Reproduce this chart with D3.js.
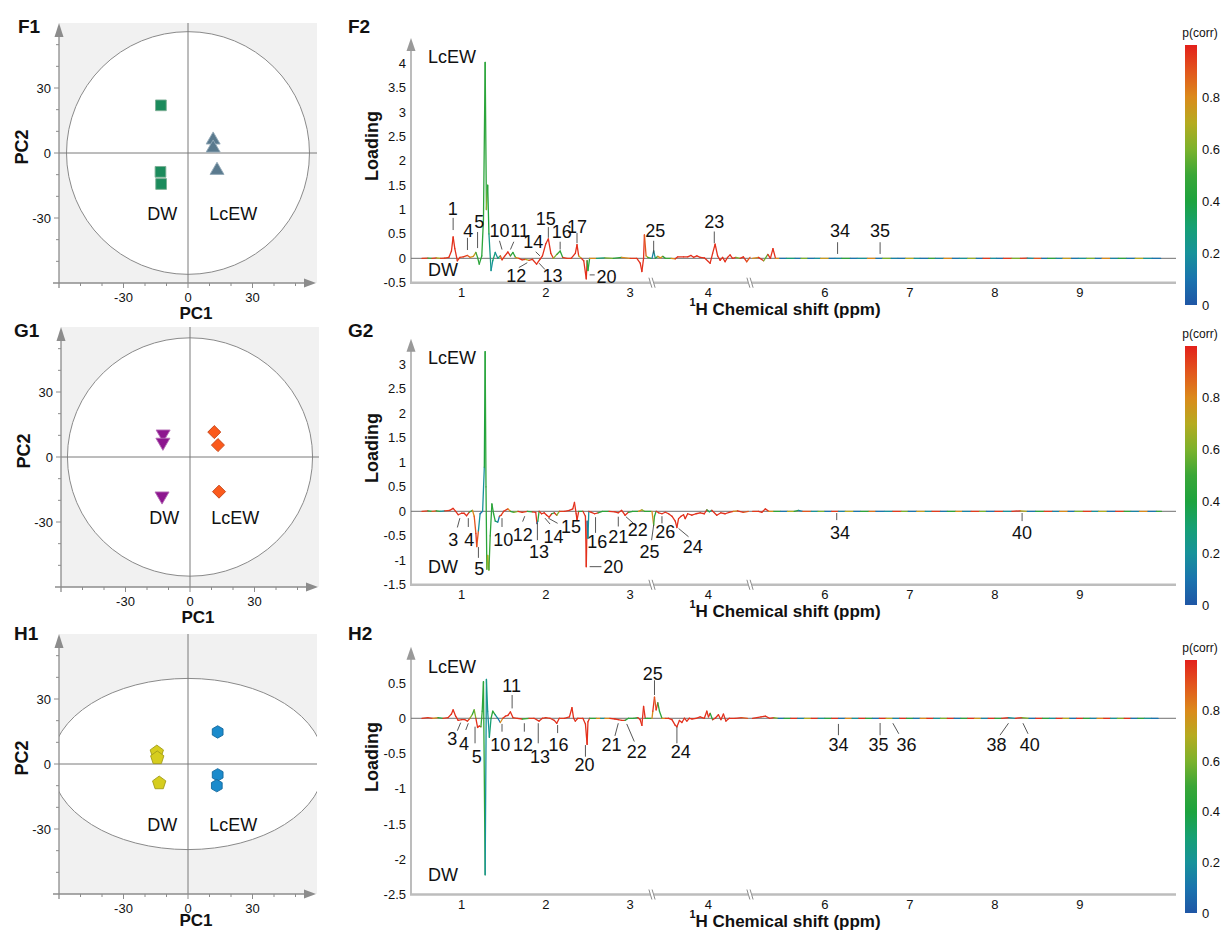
<!DOCTYPE html>
<html>
<head>
<meta charset="utf-8">
<script src="https://cdn.jsdelivr.net/npm/d3@7"></script>
<style>
  body { margin: 0; background: #fff; }
  text { font-family: "Liberation Sans", Arial, sans-serif; fill: #111; }
</style>
</head>
<body>
<svg id="fig" width="1223" height="930"></svg>
<script>
// ---------- score plots (PC1, PC2) ----------
var f1DW = [[-12.6, 22], [-12.8, -8.7], [-12.5, -14.3]];
var f1LcEW = [[11.7, 6], [11.7, 2.3], [13.5, -8]];
var g1DW = [[-12.5, 10.6], [-12.6, 6.8], [-13, -18]];
var g1LcEW = [[11.3, 11.5], [13, 5.5], [13.5, -16]];
var h1DW = [[-14.5, 5.5], [-14.3, 2.8], [-13.4, -8.8]];
var h1LcEW = [[13.8, 14.8], [13.8, -5], [13.4, -10]];
var f1Ellipse = [56.5, 56];
var g1Ellipse = [57, 55];
var h1Ellipse = [63.5, 39.5];
var pcTicks = [-30, 0, 30];
var pcMinor = [-50, -40, -30, -20, -10, 0, 10, 20, 30, 40, 50];

// ---------- loading spectra [ppm, loading, p(corr)] ----------
var f2Spec = [
  [0.53,0,.9],[0.6,.005,.95],[0.65,0,.5],[0.7,.01,.95],[0.75,0,.7],[0.8,.005,.95],[0.85,.02,.95],[0.88,.15,.97],[0.90,.44,.97],[0.92,.2,.97],[0.95,-.05,.97],[0.98,.02,.95],[1.02,.03,.95],[1.07,.06,.95],[1.10,.02,.9],[1.14,.04,.8],[1.17,.12,.75],[1.19,.02,.5],[1.21,-.12,.45],[1.24,.05,.45],[1.26,.8,.45],[1.28,4.02,.45],[1.295,1.0,.45],[1.31,1.5,.62],[1.325,.5,.4],[1.35,-.25,.25],[1.37,-.05,.2],[1.40,.12,.3],[1.43,0,.2],[1.46,.05,.3],[1.48,-.03,.9],[1.51,.04,.97],[1.55,.13,.97],[1.58,.05,.97],[1.61,.12,.45],[1.64,.02,.45],[1.68,0,.8],[1.72,-.03,.97],[1.76,-.02,.95],[1.80,-.04,.7],[1.84,-.02,.95],[1.89,-.12,.97],[1.93,-.02,.97],[1.96,.05,.97],[2.0,.3,.97],[2.03,.4,.97],[2.06,.1,.97],[2.09,0,.95],[2.13,.08,.62],[2.17,.15,.5],[2.2,.02,.45],[2.25,0,.95],[2.3,0,.95],[2.35,.1,.97],[2.37,.28,.97],[2.39,.05,.97],[2.42,0,.7],[2.45,-.05,.97],[2.48,-.42,.97],[2.49,-.05,.97],[2.5,-.25,.45],[2.52,0,.45],[2.6,0,.8],[2.7,.01,.3],[2.8,0,.6],[2.9,.02,.45],[3.0,0,.8],[3.08,0,.95],[3.12,-.1,.97],[3.14,-.27,.97],[3.16,0,.97],[3.17,.48,.97],[3.19,.05,.9],[3.21,.02,.7],[3.25,0,.5],
  [3.32,0,.45],[3.34,.15,.15],[3.36,0,.2],[3.39,.04,.45],[3.42,.01,.8],[3.45,.04,.8],[3.48,0,.45],[3.55,0,.5],[3.6,-.01,.8],[3.63,.03,.97],[3.7,.03,.97],[3.75,.03,.97],[3.79,.06,.97],[3.82,.02,.97],[3.86,.05,.97],[3.9,.02,.97],[3.95,.01,.97],[4.02,-.1,.97],[4.05,.1,.97],[4.08,.29,.97],[4.11,.05,.97],[4.14,-.04,.97],[4.17,.02,.97],[4.2,-.07,.97],[4.23,.02,.97],[4.26,.07,.97],[4.29,0,.97],[4.33,.02,.97],[4.38,0,.6],[4.42,.03,.97],[4.46,-.07,.97],[4.5,.02,.9],
  [5.15,0,.8],[5.22,.02,.8],[5.28,-.05,.97],[5.3,0,.6],[5.33,.08,.55],[5.36,0,.97],[5.39,.2,.97],[5.42,0,.97],[5.47,0,.8],
  [5.55,0,.1],[5.65,0,.3],[5.72,0,.1],[5.8,0,.6],[5.88,0,.1],[5.95,0,.2],[6.05,0,.75],[6.12,0,.1],[6.2,0,.15],[6.3,0,.45],[6.38,0,.1],[6.5,0,.2],[6.6,0,.8],[6.68,0,.1],[6.78,0,.6],[6.86,0,.15],[6.95,0,.1],[7.05,0,.7],[7.12,0,.2],[7.22,0,.1],[7.3,0,.5],[7.4,0,.15],[7.5,0,.8],[7.58,0,.1],[7.68,0,.2],[7.78,0,.65],[7.86,0,.1],[7.95,0,.95],[8.02,0,.2],[8.1,0,.1],[8.2,0,.95],[8.3,0,.6],[8.38,.005,.95],[8.46,0,.2],[8.55,0,.9],[8.62,0,.1],[8.72,0,.45],[8.8,0,.15],[8.9,0,.75],[8.98,0,.1],[9.08,0,.2],[9.18,0,.6],[9.26,0,.1],[9.36,0,.8],[9.45,0,.15],[9.55,0,.45],[9.65,0,.1],[9.75,0,.7],[9.85,0,.2],[9.95,0,.1]
];
var g2Spec = [
  [0.53,0,.45],[0.6,.01,.95],[0.65,0,.45],[0.7,.01,.9],[0.75,0,.45],[0.8,.01,.2],[0.86,.02,.95],[0.9,.06,.97],[0.93,0,.97],[0.96,-.07,.97],[1.0,-.04,.97],[1.03,-.04,.97],[1.06,-.09,.97],[1.09,-.02,.97],[1.13,.02,.5],[1.15,-.1,.8],[1.17,-.45,.9],[1.18,-.72,.97],[1.2,-.4,.9],[1.22,-.05,.2],[1.25,0,.1],[1.27,.9,.2],[1.28,3.26,.4],[1.29,.5,.45],[1.30,-1.18,.45],[1.31,-.9,.6],[1.325,-1.2,.7],[1.34,-.5,.5],[1.36,.15,.45],[1.38,-.05,.45],[1.40,-.2,.45],[1.43,-.22,.3],[1.45,-.1,.1],[1.47,-.08,.95],[1.5,0,.95],[1.55,.05,.97],[1.58,0,.8],[1.62,-.02,.45],[1.67,0,.6],[1.72,-.02,.97],[1.78,0,.95],[1.84,-.01,.45],[1.88,-.02,.97],[1.895,-.25,.97],[1.905,-.2,.1],[1.92,0,.45],[1.95,-.05,.97],[1.98,-.03,.97],[2.01,-.08,.97],[2.04,-.12,.97],[2.07,-.05,.97],[2.1,-.03,.45],[2.13,-.08,.97],[2.16,0,.6],[2.22,0,.95],[2.28,.02,.97],[2.32,.05,.97],[2.34,.18,.97],[2.36,-.05,.97],[2.37,-.18,.97],[2.39,0,.97],[2.44,0,.45],[2.47,-.1,.97],[2.48,-1.13,.97],[2.49,-.2,.97],[2.5,-.55,.1],[2.51,0,.2],[2.54,-.02,.97],[2.58,-.05,.97],[2.62,-.03,.97],[2.67,0,.45],[2.75,0,.45],[2.82,-.01,.97],[2.86,-.03,.97],[2.9,.02,.97],[2.94,-.08,.97],[2.98,-.02,.97],[3.03,0,.45],[3.1,0,.45],[3.14,.03,.8],[3.17,0,.6],[3.25,0,.45],
  [3.32,0,.45],[3.34,-.28,.8],[3.35,-.1,.5],[3.37,0,.45],[3.4,-.03,.97],[3.44,-.05,.97],[3.48,-.02,.97],[3.52,-.05,.97],[3.56,-.1,.97],[3.6,-.2,.97],[3.62,-.33,.97],[3.64,-.15,.97],[3.67,-.1,.97],[3.7,-.07,.97],[3.72,-.15,.97],[3.75,-.05,.97],[3.8,-.08,.97],[3.85,-.05,.97],[3.9,-.03,.97],[3.95,-.05,.97],[3.98,.03,.97],[4.01,-.01,.45],[4.04,.02,.3],[4.1,-.08,.97],[4.15,-.03,.97],[4.2,-.05,.97],[4.25,-.02,.97],[4.3,0,.97],[4.35,.01,.8],[4.42,-.02,.97],[4.48,0,.9],
  [5.15,0,.6],[5.22,0,.95],[5.26,-.02,.97],[5.3,.05,.97],[5.34,0,.97],[5.4,0,.8],
  [5.48,0,.45],[5.56,0,.1],[5.64,0,.7],[5.69,.02,.45],[5.74,0,.15],[5.84,0,.9],[5.92,0,.2],[6.0,0,.6],[6.08,0,.1],[6.16,0,.95],[6.24,0,.15],[6.34,0,.7],[6.42,0,.1],[6.52,0,.45],[6.6,0,.85],[6.7,0,.1],[6.8,0,.2],[6.9,0,.95],[6.98,0,.6],[7.08,0,.1],[7.18,0,.75],[7.26,0,.2],[7.36,0,.95],[7.44,0,.1],[7.54,0,.45],[7.62,0,.8],[7.72,0,.15],[7.82,0,.95],[7.9,0,.6],[8.0,0,.1],[8.1,0,.95],[8.2,0,.2],[8.3,.01,.97],[8.38,0,.7],[8.48,0,.1],[8.58,0,.45],[8.68,0,.95],[8.76,0,.15],[8.86,0,.8],[8.94,0,.1],[9.04,0,.6],[9.14,0,.95],[9.22,0,.2],[9.32,0,.7],[9.42,0,.1],[9.52,0,.95],[9.6,0,.45],[9.7,0,.15],[9.8,0,.8],[9.9,0,.1],[9.96,0,.5]
];
var h2Spec = [
  [0.53,0,.45],[0.6,.01,.97],[0.66,0,.95],[0.72,.01,.8],[0.78,0,.45],[0.84,.01,.95],[0.88,.06,.97],[0.9,.12,.97],[0.93,.03,.97],[0.96,-.03,.97],[1.0,-.02,.97],[1.04,-.02,.97],[1.07,-.04,.97],[1.1,0,.95],[1.13,.06,.6],[1.15,.12,.45],[1.17,0,.6],[1.19,-.13,.97],[1.21,-.11,.97],[1.23,-.12,.97],[1.245,.1,.5],[1.26,.52,.45],[1.28,-2.22,.45],[1.295,.55,.2],[1.31,.1,.25],[1.33,-.27,.2],[1.35,0,.3],[1.37,.1,.45],[1.4,.05,.45],[1.43,0,.2],[1.46,-.06,.1],[1.49,0,.8],[1.52,.03,.97],[1.55,.04,.97],[1.58,.09,.97],[1.61,.01,.97],[1.66,0,.95],[1.72,-.01,.97],[1.8,0,.5],[1.86,0,.95],[1.92,-.04,.97],[1.96,0,.97],[2.0,.01,.97],[2.05,0,.95],[2.1,-.03,.97],[2.13,-.07,.97],[2.16,0,.97],[2.22,0,.95],[2.28,.02,.97],[2.31,.15,.97],[2.33,0,.97],[2.35,-.04,.97],[2.38,0,.97],[2.44,0,.95],[2.47,-.08,.97],[2.49,-.37,.97],[2.5,-.05,.97],[2.52,0,.97],[2.6,0,.45],[2.65,0,.8],[2.7,0,.2],[2.76,0,.8],[2.82,-.01,.97],[2.86,-.02,.97],[2.9,-.03,.97],[2.94,-.03,.97],[2.98,0,.45],[3.04,0,.45],[3.09,.01,.45],[3.12,-.02,.97],[3.14,-.1,.97],[3.16,.17,.97],[3.18,0,.97],[3.21,0,.45],[3.25,0,.45],
  [3.32,0,.8],[3.33,.1,.8],[3.35,.3,.97],[3.37,.12,.9],[3.39,.22,.97],[3.41,.1,.45],[3.44,0,.45],[3.48,0,.8],[3.52,0,.95],[3.56,-.02,.97],[3.6,-.1,.97],[3.62,-.12,.97],[3.65,-.03,.97],[3.68,-.06,.97],[3.71,0,.97],[3.74,-.04,.97],[3.77,0,.97],[3.8,-.01,.97],[3.85,0,.97],[3.9,.02,.97],[3.95,0,.97],[3.98,.1,.97],[4.0,.02,.97],[4.02,.07,.97],[4.05,-.02,.45],[4.08,0,.97],[4.12,.05,.97],[4.15,-.02,.97],[4.18,.06,.97],[4.21,-.04,.97],[4.25,0,.97],[4.32,0,.97],[4.4,.01,.97],[4.47,0,.9],
  [5.15,0,.97],[5.25,.02,.97],[5.3,.03,.97],[5.35,0,.97],[5.4,.01,.97],[5.45,0,.6],
  [5.52,0,.1],[5.6,0,.45],[5.68,0,.97],[5.76,0,.15],[5.84,0,.7],[5.92,0,.97],[6.0,0,.2],[6.08,0,.45],[6.16,0,.97],[6.24,0,.1],[6.32,0,.8],[6.4,0,.2],[6.48,0,.97],[6.56,0,.45],[6.64,0,.1],[6.72,0,.97],[6.8,0,.7],[6.88,0,.15],[6.96,0,.97],[7.04,0,.45],[7.12,0,.1],[7.2,0,.8],[7.28,0,.97],[7.36,0,.2],[7.44,0,.6],[7.52,0,.97],[7.6,0,.1],[7.68,0,.45],[7.76,0,.97],[7.84,0,.75],[7.92,0,.15],[8.0,0,.97],[8.08,0,.45],[8.16,.01,.97],[8.24,0,.2],[8.32,.01,.97],[8.4,0,.6],[8.48,0,.1],[8.56,0,.97],[8.64,0,.45],[8.72,0,.2],[8.8,0,.97],[8.88,0,.7],[8.96,0,.1],[9.04,0,.97],[9.12,0,.45],[9.2,0,.15],[9.28,0,.8],[9.36,0,.97],[9.44,0,.2],[9.52,0,.6],[9.6,0,.97],[9.68,0,.1],[9.76,0,.45],[9.84,0,.2],[9.92,0,.1]
];

// peak annotations: [text, ppm, loading, leader ppm1, load1, ppm2, load2]
var f2Peaks = [
  ["1",0.895,1.03,0.90,0.83,0.90,0.58],["4",1.08,0.58,1.07,0.42,1.07,0.17],["5",1.21,0.75,1.19,0.54,1.19,0.21],
  ["10",1.45,0.58,1.45,0.36,1.48,0.18],["11",1.69,0.58,1.62,0.34,1.58,0.18],["14",1.85,0.34,1.88,0.135,1.93,0.05],
  ["15",2.0,0.82,2.03,0.64,2.03,0.42],["16",2.19,0.55,2.17,0.34,2.17,0.18],["17",2.37,0.65,2.37,0.52,2.37,0.31],
  ["12",1.65,-0.36,1.68,-0.19,1.78,-0.09],["13",2.08,-0.36,1.92,-0.10,1.99,-0.23],["20",2.72,-0.38,2.52,-0.34,2.58,-0.34],
  ["25",3.36,0.58,3.34,0.36,3.34,0.10],["23",4.07,0.75,4.07,0.55,4.07,0.31],
  ["34",6.18,0.56,6.15,0.33,6.15,0.09],["35",6.65,0.56,6.65,0.33,6.65,0.09]
];
var g2Peaks = [
  ["3",0.90,-0.586,0.95,-0.33,0.98,-0.14],["4",1.09,-0.586,1.08,-0.14,1.08,-0.32],["5",1.21,-1.16,1.20,-0.73,1.20,-0.95],
  ["10",1.495,-0.586,1.48,-0.14,1.48,-0.32],["12",1.725,-0.48,1.75,-0.10,1.725,-0.21],["13",1.92,-0.82,1.90,-0.24,1.90,-0.59],
  ["14",2.09,-0.52,1.99,-0.14,2.05,-0.26],["15",2.30,-0.31,2.03,-0.14,2.14,-0.245],["16",2.61,-0.62,2.59,-0.12,2.59,-0.44],
  ["20",2.80,-1.12,2.52,-1.13,2.66,-1.13],["21",2.86,-0.52,2.86,-0.11,2.86,-0.31],["22",3.09,-0.38,2.95,-0.11,3.04,-0.245],
  ["25",3.23,-0.82,3.34,-0.28,3.255,-0.59],["26",3.48,-0.42,3.44,-0.10,3.44,-0.245],["24",3.81,-0.71,3.64,-0.35,3.76,-0.52],
  ["34",6.18,-0.44,6.14,-0.035,6.14,-0.18],["40",8.32,-0.44,8.32,-0.035,8.32,-0.2]
];
var h2Peaks = [
  ["3",0.89,-0.284,0.95,-0.176,0.99,-0.062],["4",1.03,-0.355,1.05,-0.166,1.08,-0.071],["5",1.18,-0.545,1.16,-0.119,1.16,-0.355],
  ["10",1.46,-0.379,1.48,-0.08,1.48,-0.19],["12",1.73,-0.379,1.745,-0.07,1.745,-0.19],["13",1.93,-0.545,1.91,-0.07,1.91,-0.355],
  ["16",2.15,-0.379,2.14,-0.095,2.14,-0.21],["20",2.46,-0.66,2.47,-0.38,2.47,-0.545],["21",2.78,-0.379,2.86,-0.07,2.82,-0.25],
  ["22",3.08,-0.47,2.96,-0.08,3.05,-0.33],["11",1.595,0.47,1.60,0.33,1.60,0.14],["25",3.33,0.64,3.35,0.54,3.35,0.33],
  ["24",3.665,-0.47,3.62,-0.12,3.62,-0.355],["34",6.16,-0.379,6.16,-0.08,6.16,-0.24],["35",6.63,-0.379,6.65,-0.067,6.65,-0.24],
  ["36",6.96,-0.379,6.80,-0.07,6.87,-0.22],["38",8.02,-0.379,8.16,-0.07,8.06,-0.24],["40",8.41,-0.379,8.33,-0.07,8.39,-0.22]
];
var ppmTicks = [1, 2, 3, 4, 6, 7, 8, 9];
var f2YTicks = [-0.5, 0, 0.5, 1, 1.5, 2, 2.5, 3, 3.5, 4];
var g2YTicks = [-1.5, -1, -0.5, 0, 0.5, 1, 1.5, 2, 2.5, 3];
var h2YTicks = [-2.5, -2, -1.5, -1, -0.5, 0, 0.5];
var pcorrTicks = [0, 0.2, 0.4, 0.6, 0.8];
var pcorrStops = [0, .1, .2, .3, .4, .5, .6, .7, .8, .9, 1];
var pcorrColors = ["#1f56a5","#1a74ae","#17929a","#16a073","#1da33e","#3aa637","#7cb22c","#b5ab20","#db8a1b","#e2561d","#e3201b"];

var svg = d3.select("#fig");
svg.append("rect").attr("width", 1223).attr("height", 930).attr("fill", "#fff");

var pcColor = d3.scaleLinear().domain(pcorrStops).range(pcorrColors).clamp(true);

// broken ppm axis: gaps 3.26-3.32 and 4.5-5.12
var gaps = [[3.26, 3.32], [4.5, 5.12]];
var x = d3.scaleLinear()
  .domain([0.4, 3.26, 3.32, 4.5, 5.12, 10.13])
  .range([411, 652, 652, 750, 750, 1176]);

function polygon(n, r, rot) {
  var pts = [];
  for (var i = 0; i < n; i++) {
    var a = rot + i * 2 * Math.PI / n;
    pts.push([r * Math.sin(a), -r * Math.cos(a)]);
  }
  return "M" + pts.join("L") + "Z";
}

var shapes = {
  square: d3.symbol(d3.symbolSquare, 115)(),
  triUp: d3.symbol(d3.symbolTriangle, 85)(),
  diamond: d3.symbol(d3.symbolSquare, 85)(),
  pentagon: polygon(5, 7, 0),
  hexagon: polygon(6, 6.2, 0)
};

function letter(t, px, py) {
  svg.append("text").attr("x", px).attr("y", py).text(t)
    .attr("font-size", 19).attr("font-weight", "bold");
}

// ---------- score plot ----------
function drawScores(cfg) {
  var sx = d3.scaleLinear().domain([-60, 60]).range(cfg.xr);
  var sy = d3.scaleLinear().domain([-60, 60]).range(cfg.yr);
  var g = svg.append("g");
  var clipId = "clip" + cfg.name;
  svg.append("clipPath").attr("id", clipId).append("rect")
    .attr("x", cfg.xr[0]).attr("y", cfg.yr[1])
    .attr("width", cfg.xr[1] - cfg.xr[0]).attr("height", cfg.yr[0] - cfg.yr[1]);

  g.append("rect")
    .attr("x", cfg.xr[0]).attr("y", cfg.yr[1])
    .attr("width", cfg.xr[1] - cfg.xr[0]).attr("height", cfg.yr[0] - cfg.yr[1])
    .attr("fill", "#f1f1f1");
  g.append("ellipse")
    .attr("clip-path", "url(#" + clipId + ")")
    .attr("cx", sx(0)).attr("cy", sy(0))
    .attr("rx", sx(cfg.ellipse[0]) - sx(0)).attr("ry", sy(0) - sy(cfg.ellipse[1]))
    .attr("fill", "#fff").attr("stroke", "#8a8a8a").attr("stroke-width", 1);

  // cross hairs
  g.append("line").attr("x1", sx(0)).attr("x2", sx(0)).attr("y1", cfg.yr[1]).attr("y2", cfg.yr[0])
    .attr("stroke", "#7a7a7a");
  g.append("line").attr("x1", cfg.xr[0]).attr("x2", cfg.xr[1]).attr("y1", sy(0)).attr("y2", sy(0))
    .attr("stroke", "#7a7a7a");

  // axes with arrows
  var ax = "#8c8c8c";
  g.append("line").attr("x1", cfg.xr[0] - 6).attr("x2", cfg.xr[1] - 12)
    .attr("y1", cfg.yr[0]).attr("y2", cfg.yr[0]).attr("stroke", ax).attr("stroke-width", 1.3);
  g.append("path")
    .attr("d", "M" + (cfg.xr[1] - 13) + "," + (cfg.yr[0] - 4.5) + "L" + (cfg.xr[1] - 1) + "," + cfg.yr[0] + "L" + (cfg.xr[1] - 13) + "," + (cfg.yr[0] + 4.5) + "Z")
    .attr("fill", ax);
  g.append("line").attr("x1", cfg.xr[0]).attr("x2", cfg.xr[0])
    .attr("y1", cfg.yr[0] + 5).attr("y2", cfg.yr[1] + 13).attr("stroke", ax).attr("stroke-width", 1.3);
  g.append("path")
    .attr("d", "M" + (cfg.xr[0] - 4.5) + "," + (cfg.yr[1] + 14) + "L" + cfg.xr[0] + "," + cfg.yr[1] + "L" + (cfg.xr[0] + 4.5) + "," + (cfg.yr[1] + 14) + "Z")
    .attr("fill", ax);

  pcMinor.forEach(function(v) {
    var len = pcTicks.indexOf(v) >= 0 ? 5 : 3;
    g.append("line").attr("x1", sx(v)).attr("x2", sx(v))
      .attr("y1", cfg.yr[0]).attr("y2", cfg.yr[0] + len).attr("stroke", ax);
    g.append("line").attr("y1", sy(v)).attr("y2", sy(v))
      .attr("x1", cfg.xr[0]).attr("x2", cfg.xr[0] - len).attr("stroke", ax);
  });
  pcTicks.forEach(function(v) {
    g.append("text").attr("x", sx(v)).attr("y", cfg.yr[0] + 19)
      .attr("text-anchor", "middle").attr("font-size", 13).attr("fill", "#222").text(v);
    g.append("text").attr("x", cfg.xr[0] - 8).attr("y", sy(v)).attr("dy", "0.35em")
      .attr("text-anchor", "end").attr("font-size", 13).attr("fill", "#222").text(v);
  });

  g.append("text").attr("x", sx(0) + 8).attr("y", Math.min(cfg.yr[0] + 36, 926))
    .attr("text-anchor", "middle").attr("font-size", 17).attr("font-weight", "bold").text("PC1");
  g.append("text").attr("transform", "translate(" + (cfg.xr[0] - 31) + "," + (sy(0) - 6) + ") rotate(-90)")
    .attr("text-anchor", "middle").attr("font-size", 18).attr("font-weight", "bold").text("PC2");

  [[cfg.dw, cfg.dwStyle], [cfg.lc, cfg.lcStyle]].forEach(function(grp) {
    g.selectAll(null).data(grp[0]).enter().append("path")
      .attr("d", grp[1].shape)
      .attr("transform", function(d) {
        return "translate(" + sx(d[0]) + "," + sy(d[1]) + ")" + (grp[1].rot ? " rotate(" + grp[1].rot + ")" : "");
      })
      .attr("fill", grp[1].fill).attr("stroke", grp[1].stroke).attr("stroke-width", 0.9);
  });

  g.append("text").attr("x", sx(-12)).attr("y", sy(-28)).attr("dy", "0.35em")
    .attr("text-anchor", "middle").attr("font-size", 18).text("DW");
  g.append("text").attr("x", sx(21)).attr("y", sy(-28)).attr("dy", "0.35em")
    .attr("text-anchor", "middle").attr("font-size", 18).text("LcEW");
}

drawScores({ name: "F1", xr: [59, 317], yr: [283, 23], ellipse: f1Ellipse,
  dw: f1DW, dwStyle: { shape: shapes.square, fill: "#1b8b5c", stroke: "#7aae93" },
  lc: f1LcEW, lcStyle: { shape: shapes.triUp, fill: "#5a7a8e", stroke: "#93a9b8" } });
drawScores({ name: "G1", xr: [61, 319], yr: [587, 327], ellipse: g1Ellipse,
  dw: g1DW, dwStyle: { shape: shapes.triUp, rot: 180, fill: "#8d168f", stroke: "#b36ab4" },
  lc: g1LcEW, lcStyle: { shape: shapes.diamond, rot: 45, fill: "#fb5a1c", stroke: "#c5461a" } });
drawScores({ name: "H1", xr: [59, 317], yr: [894, 634], ellipse: h1Ellipse,
  dw: h1DW, dwStyle: { shape: shapes.pentagon, fill: "#d6cd1e", stroke: "#a39c1a" },
  lc: h1LcEW, lcStyle: { shape: shapes.hexagon, fill: "#1b8bcc", stroke: "#14699d" } });

// ---------- loading plot ----------
function crossesGap(a, b) {
  return gaps.some(function(gp) { return a <= gp[0] && b >= gp[1]; });
}

function drawLoadings(cfg) {
  var y = d3.scaleLinear().domain(cfg.yd).range(cfg.yr);
  var g = svg.append("g");
  var yBot = cfg.yr[0], yTop = cfg.yr[1];

  // y axis with arrow
  g.append("line").attr("x1", 411).attr("x2", 411).attr("y1", yBot).attr("y2", yTop + 11)
    .attr("stroke", "#999").attr("stroke-width", 1.3);
  g.append("path")
    .attr("d", "M406.5," + (yTop + 12) + "L411," + (yTop - 1) + "L415.5," + (yTop + 12) + "Z")
    .attr("fill", "#999");
  cfg.yTicks.forEach(function(v) {
    g.append("text").attr("x", 406).attr("y", y(v)).attr("dy", "0.35em")
      .attr("text-anchor", "end").attr("font-size", 13).attr("fill", "#222").text(v);
  });

  // x axis (broken)
  g.append("line").attr("x1", 410).attr("x2", 1176).attr("y1", yBot).attr("y2", yBot)
    .attr("stroke", "#bdbdbd").attr("stroke-width", 2.5);
  gaps.forEach(function(gp) {
    var bx = x(gp[0]);
    g.append("rect").attr("x", bx - 2).attr("y", yBot - 3).attr("width", 4).attr("height", 6).attr("fill", "#fff");
    [-1.6, 1.6].forEach(function(o) {
      g.append("line").attr("x1", bx + o - 1.5).attr("x2", bx + o + 1.5)
        .attr("y1", yBot - 5).attr("y2", yBot + 5).attr("stroke", "#8c8c8c").attr("stroke-width", 1);
    });
  });
  ppmTicks.forEach(function(v) {
    g.append("text").attr("x", x(v)).attr("y", yBot + 10).attr("dy", "0.35em")
      .attr("text-anchor", "middle").attr("font-size", 13).attr("fill", "#222").text(v);
  });

  // zero line
  g.append("line").attr("x1", 411).attr("x2", 1176).attr("y1", y(0)).attr("y2", y(0))
    .attr("stroke", "#707070").attr("stroke-width", 1);

  // spectrum coloured by p(corr)
  var d = cfg.spec;
  for (var i = 1; i < d.length; i++) {
    if (crossesGap(d[i - 1][0], d[i][0])) continue;
    g.append("line")
      .attr("x1", x(d[i - 1][0])).attr("y1", y(d[i - 1][1]))
      .attr("x2", x(d[i][0])).attr("y2", y(d[i][1]))
      .attr("stroke", pcColor(d[i][2])).attr("stroke-width", 1.3)
      .attr("stroke-linecap", "round");
  }

  // peak numbers
  cfg.peaks.forEach(function(p) {
    g.append("line").attr("x1", x(p[3])).attr("y1", y(p[4])).attr("x2", x(p[5])).attr("y2", y(p[6]))
      .attr("stroke", "#444").attr("stroke-width", 0.9);
    g.append("text").attr("x", x(p[1])).attr("y", y(p[2])).attr("dy", "0.36em")
      .attr("text-anchor", "middle").attr("font-size", 18).text(p[0]);
  });

  g.append("text").attr("x", 428).attr("y", cfg.lcY).attr("dy", "0.35em")
    .attr("font-size", 18).text("LcEW");
  g.append("text").attr("x", 428).attr("y", cfg.dwY).attr("dy", "0.35em")
    .attr("font-size", 18).text("DW");

  g.append("text").attr("transform", "translate(378," + cfg.titleY + ") rotate(-90)")
    .attr("text-anchor", "middle").attr("font-size", 18).attr("font-weight", "bold").text("Loading");
  var xt = g.append("text").attr("x", 785).attr("y", yBot + 29).attr("dy", "0.35em")
    .attr("text-anchor", "middle").attr("font-size", 17).attr("font-weight", "bold");
  xt.append("tspan").attr("font-size", 11).attr("dy", "-0.5em").text("1");
  xt.append("tspan").attr("dy", "0.5em").text("H Chemical shift (ppm)");

  // colour bar
  var cb = d3.scaleLinear().domain([0, 1]).range(cfg.cb);
  var gradId = "grad" + cfg.name;
  var grad = svg.append("defs").append("linearGradient").attr("id", gradId)
    .attr("x1", 0).attr("x2", 0).attr("y1", 1).attr("y2", 0);
  pcorrStops.forEach(function(s, k) {
    grad.append("stop").attr("offset", s).attr("stop-color", pcorrColors[k]);
  });
  g.append("rect").attr("x", 1185).attr("y", cb(1)).attr("width", 12).attr("height", cb(0) - cb(1))
    .attr("fill", "url(#" + gradId + ")");
  pcorrTicks.forEach(function(v) {
    g.append("text").attr("x", 1202).attr("y", cb(v)).attr("dy", "0.35em")
      .attr("font-size", 13).attr("fill", "#222").text(v);
  });
  g.append("text").attr("x", 1200).attr("y", cb(1) - 12).attr("dy", "0.35em")
    .attr("text-anchor", "middle").attr("font-size", 12).attr("fill", "#222").text("p(corr)");
}

drawLoadings({ name: "F2", spec: f2Spec, peaks: f2Peaks, yd: [-0.5, 4.5], yr: [282.7, 38.9],
  yTicks: f2YTicks, lcY: 57, dwY: 270, titleY: 146, cb: [305, 45] });
drawLoadings({ name: "G2", spec: g2Spec, peaks: g2Peaks, yd: [-1.5, 3.5], yr: [584.8, 339.8],
  yTicks: g2YTicks, lcY: 358, dwY: 567, titleY: 448, cb: [605, 346] });
drawLoadings({ name: "H2", spec: h2Spec, peaks: h2Peaks, yd: [-2.5, 1.0], yr: [894.5, 647.8],
  yTicks: h2YTicks, lcY: 667, dwY: 875, titleY: 757, cb: [913, 660] });

letter("F1", 18, 33); letter("F2", 348, 33);
letter("G1", 14, 337); letter("G2", 348, 337);
letter("H1", 14, 640); letter("H2", 348, 640);
</script>
</body>
</html>
